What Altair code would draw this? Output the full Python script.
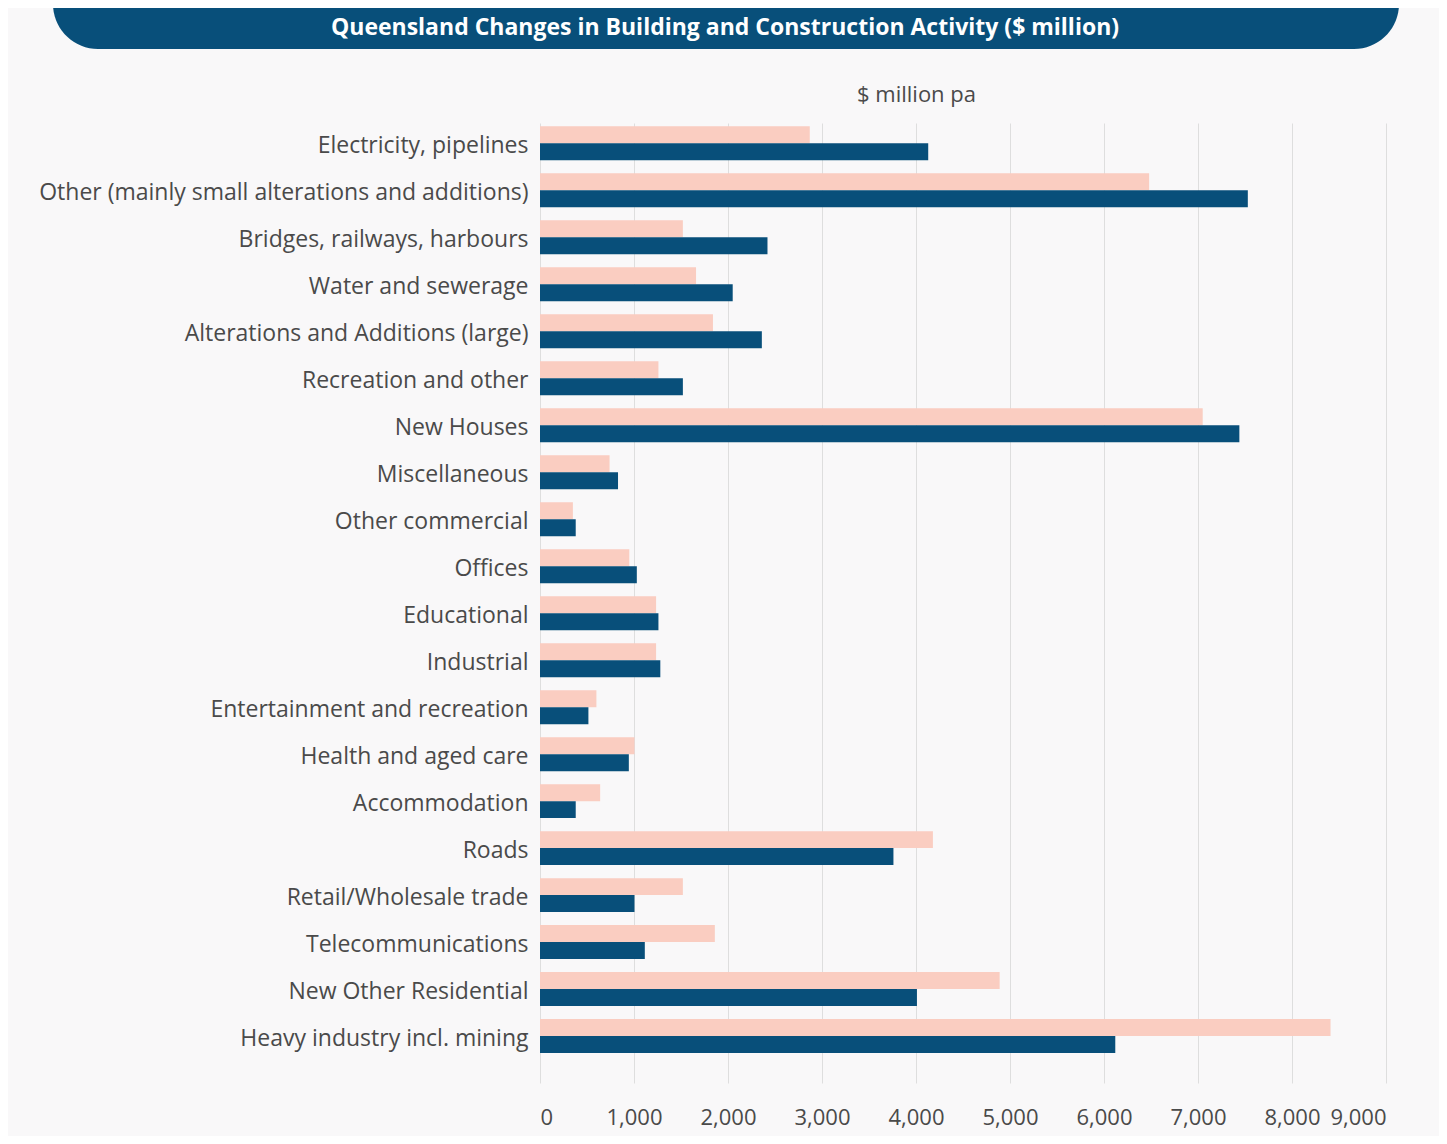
import altair as alt
import pandas as pd

categories = [
    "Electricity, pipelines",
    "Other (mainly small alterations and additions)",
    "Bridges, railways, harbours",
    "Water and sewerage",
    "Alterations and Additions (large)",
    "Recreation and other",
    "New Houses",
    "Miscellaneous",
    "Other commercial",
    "Offices",
    "Educational",
    "Industrial",
    "Entertainment and recreation",
    "Health and aged care",
    "Accommodation",
    "Roads",
    "Retail/Wholesale trade",
    "Telecommunications",
    "New Other Residential",
    "Heavy industry incl. mining",
]
series_names = ["Earlier period", "Later period"]
earlier_values = [2870, 6480, 1520, 1660, 1840, 1260, 7050, 740, 350, 950,
                  1235, 1235, 600, 1005, 640, 4180, 1520, 1860, 4890, 8410]
later_values = [4130, 7530, 2420, 2050, 2360, 1520, 7440, 830, 380, 1030,
                1260, 1280, 515, 945, 380, 3760, 1005, 1115, 4010, 6120]
x_ticks = [0, 1000, 2000, 3000, 4000, 5000, 6000, 7000, 8000, 9000]
title_text = "Queensland Changes in Building and Construction Activity ($ million)"
axis_title = "$ million pa"

rows = []
for c, a, b in zip(categories, earlier_values, later_values):
    rows.append({"category": c, "series": series_names[0], "value": a})
    rows.append({"category": c, "series": series_names[1], "value": b})
df = pd.DataFrame(rows)

FONT = "Open Sans"
PINK = "#facdc1"
BLUE = "#084f7a"
TEXT = "#4a4a4a"

bars = alt.Chart(df).mark_bar().encode(
    y=alt.Y(
        "category:N",
        sort=categories,
        scale=alt.Scale(paddingInner=0.277, paddingOuter=0.354, align=0.1),
        axis=alt.Axis(
            title=None, labelFontSize=23, labelColor=TEXT, labelPadding=12,
            labelOffset=3,
            ticks=False, domain=False, labelFont=FONT, labelLimit=700, grid=False,
        ),
    ),
    yOffset=alt.YOffset(
        "series:N", sort=series_names,
        scale=alt.Scale(paddingInner=0, paddingOuter=0),
    ),
    x=alt.X(
        "value:Q",
        scale=alt.Scale(domain=[0, 9000], nice=False),
        axis=alt.Axis(
            values=x_ticks, format=",d", title=axis_title,
            labelFontSize=22, labelColor=TEXT, labelFont=FONT, labelPadding=24,
            ticks=False, domain=False, grid=True, gridColor="#dedede", gridWidth=1,
            titleFont=FONT, titleFontSize=22, titleColor=TEXT, titleFontWeight="normal",
            titleX=376, titleY=-989, titleBaseline="middle",
        ),
    ),
    color=alt.Color(
        "series:N",
        scale=alt.Scale(domain=series_names, range=[PINK, BLUE]),
        legend=None,
    ),
)

banner_df = alt.Data(values=[{"t": title_text}])
banner = alt.Chart(banner_df).mark_rect(color=BLUE, cornerRadius=45).encode(
    x=alt.value(-487), x2=alt.value(859),
    y=alt.value(-200), y2=alt.value(-74),
)
title = alt.Chart(banner_df).mark_text(
    color="white", fontSize=23, fontWeight="bold", font=FONT,
    align="center", baseline="middle",
).encode(
    x=alt.value(185), y=alt.value(-95), text="t:N",
)

chart = alt.layer(banner, bars, title).properties(
    width=846, height=960,
    autosize=alt.AutoSizeParams(type="none"),
    padding={"left": 532, "top": 115, "right": 53, "bottom": 53},
    background="#f9f8f9",
).configure_view(stroke="transparent")

chart.save("out.html", embed_options={"renderer": "svg", "actions": False})
